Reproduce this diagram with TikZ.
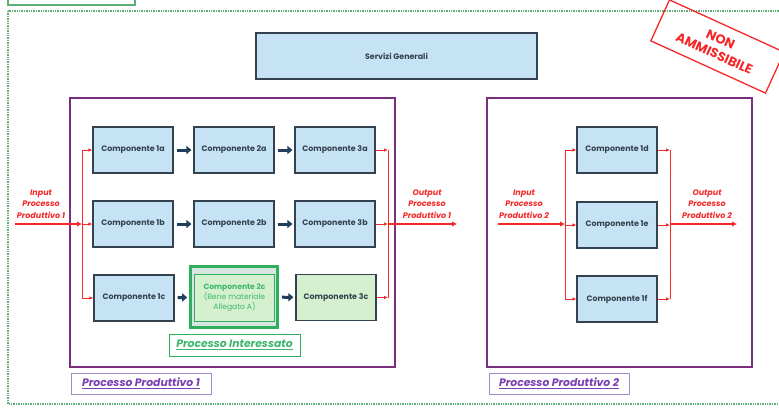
\documentclass[tikz,border=0pt]{standalone}
\usepackage{fontspec}
\setmainfont{Poppins}
\usetikzlibrary{arrows.meta, positioning}

\definecolor{boxblue}{HTML}{C5E3F4}
\definecolor{slate}{HTML}{34424F}
\definecolor{navy}{HTML}{1F3F5C}
\definecolor{procpurple}{HTML}{7A2E7E}
\definecolor{labelpurple}{HTML}{7A3FB0}
\definecolor{labelline}{HTML}{A58BC6}
\definecolor{okgreen}{HTML}{2FAE5E}
\definecolor{textgreen}{HTML}{3DB86A}
\definecolor{lightgreen}{HTML}{D5F0CE}
\definecolor{greygreen}{HTML}{D8E6E1}
\definecolor{framegreen}{HTML}{5FAE78}
\definecolor{flowred}{HTML}{F42828}

\begin{document}
\begin{tikzpicture}[
    x=1pt, y=-1pt, >=Latex,
    comp/.style={draw=slate, line width=1.1pt, fill=boxblue, minimum width=80pt,
      minimum height=46pt, inner sep=1pt, text=slate, font=\bfseries\fontsize{7.9}{9}\selectfont}, % component boxes
    blockarrow/.style={draw=navy, line width=3pt, -{Triangle[length=5pt,width=8pt]},
      shorten <=3pt, shorten >=2pt}, % dark arrows between components
    redline/.style={draw=flowred, line width=0.9pt}, % thin red lines
    redarrow/.style={redline, -{Latex[length=4pt,width=3.5pt]}}, % thin red branches
    flowarrow/.style={draw=flowred, line width=2.2pt, -{Latex[length=5pt,width=5.5pt]}}, % thick input/output
    flowlabel/.style={text=flowred, align=center, font=\bfseries\itshape\fontsize{8}{11.5}\selectfont},
    process/.style={draw=procpurple, line width=2.6pt}, % production process frames
    tag/.style={draw=#1, line width=1pt, inner sep=0pt, font=\bfseries\itshape\fontsize{10.8}{12}\selectfont}
]
    \useasboundingbox (0,0) rectangle (779,407);

    % Frames
    \draw[framegreen, line width=1.1pt] (8,-10) rectangle (135,5);
    \draw[framegreen, line width=1.4pt, densely dotted] (8,11) rectangle (790,404);

    % Shared services
    \node[comp, minimum width=281pt, minimum height=46pt]
      (serv) at (396.5,56) {Servizi Generali};

    % Stamp
    \node[draw=flowred, line width=1.3pt, rotate=-24.5, minimum width=126pt, minimum height=45pt,
      text=flowred, align=center, font=\bfseries\fontsize{13}{15}\selectfont]
      (stamp) at (717.5,46.5) {NON\\AMMISSIBILE};

    % Processo Produttivo 1
    \draw[process] (70,98) rectangle (395,367);
    \node[tag=labelline, text=labelpurple, minimum width=140pt, minimum height=21pt]
      (tag1) at (141,383.5) {\underline{Processo Produttivo 1}};

    \node[comp] (c1a) at (133,150) {Componente 1a};
    \node[comp] (c2a) at (234,150) {Componente 2a};
    \node[comp] (c3a) at (335,150) {Componente 3a};
    \node[comp] (c1b) at (133,224) {Componente 1b};
    \node[comp] (c2b) at (234,224) {Componente 2b};
    \node[comp] (c3b) at (335,224) {Componente 3b};
    \node[comp] (c1c) at (134,298) {Componente 1c};
    \node[draw=okgreen, line width=2.6pt, fill=greygreen, minimum width=87pt, minimum height=61pt]
      (c2cout) at (234,297) {};
    \node[comp, draw=okgreen, line width=1pt, fill=lightgreen, minimum width=80pt, minimum height=47pt,
      text=textgreen, align=center, font=\fontsize{7.6}{10}\selectfont]
      (c2c) at (234.5,297.5) {\textbf{Componente 2c}\\(Bene materiale\\Allegato A)};
    \node[comp, fill=lightgreen] (c3c) at (336,297.5) {Componente 3c};
    \node[tag=okgreen, text=textgreen, minimum width=131pt, minimum height=22pt]
      (tagint) at (234.5,345) {\underline{Processo Interessato}};

    \draw[blockarrow] (c1a) -- (c2a);
    \draw[blockarrow] (c2a) -- (c3a);
    \draw[blockarrow] (c1b) -- (c2b);
    \draw[blockarrow] (c2b) -- (c3b);
    \draw[blockarrow] (c1c) -- (c2cout);
    \draw[blockarrow] (c2cout) -- (c3c);

    % Input / output of process 1
    \coordinate (in1) at (15,224);
    \coordinate (spL1) at (82,224);
    \coordinate (spR1) at (388,224);
    \coordinate (out1) at (457,224);
    \draw[flowarrow] (in1) -- (spL1);
    \draw[redline] (spL1 |- c1a.west) -- (spL1 |- c1c.west);
    \foreach \n in {c1a, c1b, c1c}
      \draw[redarrow] (spL1 |- \n.west) -- (\n.west);
    \foreach \n in {c3a, c3b, c3c}
      \draw[redarrow] (\n.east) -- (spR1 |- \n.east);
    \draw[redline] (spR1 |- c3a.east) -- (spR1 |- c3c.east);
    \draw[flowarrow] (spR1) -- (out1);
    \node[flowlabel] (lin1) at (41,204) {Input\\Processo\\Produttivo 1};
    \node[flowlabel] (lout1) at (427,204) {Output\\Processo\\Produttivo 1};

    % Processo Produttivo 2
    \draw[process] (487,98) rectangle (752,367);
    \node[tag=labelline, text=labelpurple, minimum width=140pt, minimum height=21pt]
      (tag2) at (559,383.5) {\underline{Processo Produttivo 2}};

    \node[comp] (c1d) at (617,150) {Componente 1d};
    \node[comp] (c1e) at (617,225) {Componente 1e};
    \node[comp] (c1f) at (617,299) {Componente 1f};

    \coordinate (in2) at (498,224);
    \coordinate (spL2) at (565,224);
    \coordinate (spR2) at (670,224);
    \coordinate (out2) at (737,224);
    \draw[flowarrow] (in2) -- (spL2);
    \draw[redline] (spL2 |- c1d.west) -- (spL2 |- c1f.west);
    \foreach \n in {c1d, c1e, c1f} {
      \draw[redarrow] (spL2 |- \n.west) -- (\n.west);
      \draw[redarrow] (\n.east) -- (spR2 |- \n.east);
    }
    \draw[redline] (spR2 |- c1d.east) -- (spR2 |- c1f.east);
    \draw[flowarrow] (spR2) -- (out2);
    \node[flowlabel] (lin2) at (524,204) {Input\\Processo\\Produttivo 2};
    \node[flowlabel] (lout2) at (707,204) {Output\\Processo\\Produttivo 2};

\end{tikzpicture}
\end{document}
